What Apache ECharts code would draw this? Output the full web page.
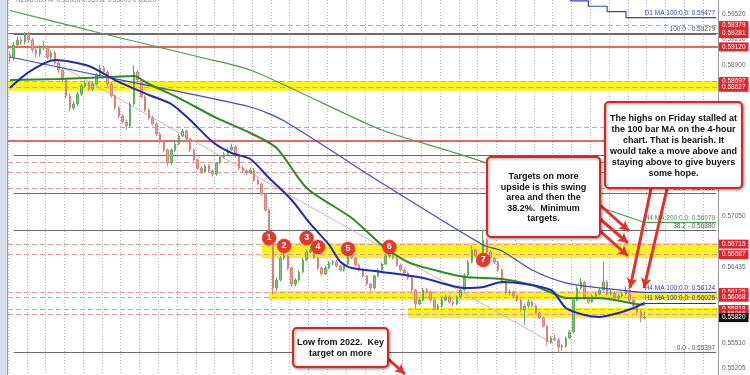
<!DOCTYPE html>
<html><head><meta charset="utf-8">
<script src="https://cdn.jsdelivr.net/npm/echarts@6/dist/echarts.min.js"></script>
<style>html,body{margin:0;padding:0;background:#fff}#c{width:750px;height:375px}</style>
</head><body><div id="c"></div>
<script>
// ---------------- data ----------------
const nCats = 189;
const firstOpen = 0.59020;
const closes = [
0.58984,0.59143,0.59203,0.59179,0.59277,0.59203,0.59082,0.59033,0.59106,0.59118,
0.58996,0.59045,0.58923,0.58838,0.58716,0.58521,0.58375,0.58423,0.58545,0.58643,
0.58679,0.58606,0.58667,0.58777,0.58862,0.58813,0.58667,0.58521,0.58375,0.58277,
0.58204,0.58155,0.58423,0.58813,0.58716,0.58509,0.58350,0.58253,0.58180,0.58058,
0.57960,0.57863,0.57704,0.57863,0.57936,0.58033,0.58094,0.57997,0.57863,0.57741,
0.57643,0.57595,0.57668,0.57607,0.57570,0.57704,0.57777,0.57814,0.57863,0.57899,
0.57790,0.57643,0.57607,0.57582,0.57619,0.57497,0.57448,0.57326,0.57131,0.56705,
0.56181,0.56278,0.56546,0.56571,0.56424,0.56229,0.56278,0.56376,0.56522,0.56619,
0.56644,0.56546,0.56424,0.56351,0.56424,0.56485,0.56497,0.56449,0.56400,0.56473,
0.56595,0.56546,0.56461,0.56400,0.56327,0.56229,0.56181,0.56327,0.56400,0.56473,
0.56571,0.56607,0.56546,0.56461,0.56400,0.56363,0.56302,0.56156,0.55986,0.56034,
0.56156,0.56132,0.56034,0.55925,0.55961,0.56034,0.56071,0.56010,0.55986,0.56071,
0.56156,0.56339,0.56497,0.56644,0.56571,0.56497,0.56766,0.56619,0.56546,0.56497,
0.56400,0.56254,0.56120,0.56132,0.56083,0.56034,0.55912,0.55961,0.56010,0.55961,
0.55876,0.55815,0.55717,0.55522,0.55571,0.55547,0.55461,0.55474,0.55571,0.55644,
0.56034,0.56181,0.56254,0.56059,0.56010,0.56083,0.56107,0.56156,0.56254,0.56107,
0.56120,0.56059,0.56083,0.56107,0.56156,0.56034,0.55961,0.55888,0.55815,0.55820];
const highs = [
0.5906,0.5918,0.5925,0.5924,0.5930,0.5930,0.5923,0.5912,0.5914,0.5919,
0.5914,0.5908,0.5907,0.5895,0.5886,0.5874,0.5855,0.5846,0.5857,0.5867,
0.5871,0.5870,0.5869,0.5880,0.5890,0.5889,0.5884,0.5869,0.5854,0.5840,
0.5830,0.5823,0.5845,0.5890,0.5884,0.5873,0.5853,0.5837,0.5828,0.5820,
0.5808,0.5798,0.5788,0.5789,0.5796,0.5806,0.5812,0.5811,0.5801,0.5788,
0.5776,0.5767,0.5769,0.5769,0.5763,0.5772,0.5780,0.5784,0.5789,0.5794,
0.5792,0.5780,0.5767,0.5763,0.5765,0.5764,0.5752,0.5746,0.5734,0.5715,
0.5672,0.5631,0.5657,0.5662,0.5659,0.5644,0.5630,0.5640,0.5655,0.5665,
0.5669,0.5666,0.5656,0.5644,0.5645,0.5651,0.5652,0.5652,0.5646,0.5649,
0.5665,0.5661,0.5656,0.5648,0.5642,0.5634,0.5624,0.5634,0.5642,0.5649,
0.5659,0.5665,0.5662,0.5656,0.5648,0.5642,0.5638,0.5632,0.5617,0.5606,
0.5618,0.5618,0.5615,0.5605,0.5599,0.5606,0.5610,0.5609,0.5603,0.5609,
0.5618,0.5636,0.5652,0.5670,0.5666,0.5659,0.5689,0.5679,0.5664,0.5656,
0.5651,0.5642,0.5627,0.5616,0.5615,0.5610,0.5605,0.5599,0.5604,0.5603,
0.5598,0.5589,0.5583,0.5573,0.5560,0.5561,0.5557,0.5550,0.5559,0.5567,
0.5606,0.5621,0.5630,0.5627,0.5608,0.5611,0.5613,0.5618,0.5650,0.5628,
0.5616,0.5614,0.5611,0.5614,0.5620,0.5618,0.5605,0.5598,0.5591,0.5589];
const lows = [
0.5893,0.5895,0.5911,0.5914,0.5915,0.5917,0.5905,0.5899,0.5900,0.5908,
0.5897,0.5896,0.5890,0.5880,0.5869,0.5849,0.5833,0.5835,0.5840,0.5852,
0.5862,0.5858,0.5858,0.5865,0.5876,0.5879,0.5864,0.5850,0.5835,0.5825,
0.5818,0.5811,0.5814,0.5840,0.5869,0.5849,0.5833,0.5823,0.5816,0.5803,
0.5794,0.5784,0.5767,0.5768,0.5784,0.5792,0.5802,0.5798,0.5784,0.5772,
0.5762,0.5757,0.5758,0.5759,0.5754,0.5755,0.5769,0.5776,0.5780,0.5785,
0.5777,0.5762,0.5759,0.5756,0.5757,0.5748,0.5743,0.5731,0.5711,0.5668,
0.5610,0.5615,0.5626,0.5652,0.5640,0.5620,0.5620,0.5626,0.5636,0.5651,
0.5660,0.5653,0.5640,0.5633,0.5634,0.5641,0.5646,0.5643,0.5638,0.5638,
0.5646,0.5653,0.5644,0.5638,0.5631,0.5621,0.5614,0.5617,0.5631,0.5639,
0.5646,0.5655,0.5653,0.5644,0.5638,0.5634,0.5628,0.5614,0.5592,0.5597,
0.5602,0.5611,0.5601,0.5591,0.5591,0.5594,0.5602,0.5599,0.5596,0.5597,
0.5605,0.5614,0.5632,0.5648,0.5655,0.5648,0.5648,0.5660,0.5653,0.5647,
0.5638,0.5623,0.5610,0.5610,0.5606,0.5601,0.5589,0.5573,0.5594,0.5594,
0.5586,0.5580,0.5570,0.5548,0.5550,0.5553,0.55397,0.5541,0.5545,0.5556,
0.5563,0.5602,0.5616,0.5604,0.5599,0.5600,0.5606,0.5609,0.5614,0.5609,
0.5609,0.5604,0.5604,0.5606,0.5609,0.5601,0.5594,0.5587,0.5576,0.5580];

// moving averages [barIndex, price]
const maH4_200 = [[0,0.59563],[24,0.59289],[51,0.58990],[64,0.58838],[77,0.58570],[99,0.58106],[117,0.57850],[130,0.57655],[151,0.57265],[169,0.56979]];
const maH4_100 = [[0,0.58996],[32,0.58692],[64,0.58387],[73,0.58216],[99,0.57460],[126,0.56705],[131,0.56632],[139,0.56400],[148,0.56242],[157,0.56181],[169,0.56124]];
const maH1_100blue = [[0,0.58618],[5,0.58813],[12,0.58960],[21,0.58887],[29,0.58692],[37,0.58533],[43,0.58423],[48,0.58228],[54,0.57960],[59,0.57826],[64,0.57753],[69,0.57521],[75,0.57253],[80,0.56961],[85,0.56705],[88,0.56497],[91,0.56424],[99,0.56376],[110,0.56302],[121,0.56181],[126,0.56193],[131,0.56254],[144,0.56156],[148,0.55937],[153,0.55851],[157,0.55827],[162,0.55876],[166,0.55937],[169,0.56000]];
const maH1_green = [[0,0.58716],[13,0.58728],[27,0.58752],[33,0.58765],[37,0.58667],[45,0.58496],[55,0.58253],[64,0.58070],[71,0.57887],[79,0.57399],[91,0.57034],[99,0.56705],[106,0.56497],[113,0.56400],[121,0.56315],[131,0.56290],[139,0.56217],[145,0.56107],[148,0.56059],[157,0.56059],[166,0.55990],[169,0.55975]];
const maD1_100 = [[149,0.59680],[154,0.59615],[159,0.59550],[164,0.59477],[188,0.59477]];
const trendLine = [[9,0.59005],[145,0.55492]];

const yTickLabels = [0.59520,0.59210,0.58900,0.57050,0.56435,0.55510,0.55205];
const priceTags = [0.59379,0.59281,0.59120,0.58697,0.58627,0.56715,0.56587,0.56125,0.56068,0.55918,0.55866];
const currentPrice = 0.55820;
const dashedLevels = [0.59379,0.58697,0.58627,0.58143,0.57716,0.57595,0.57399,0.56715,0.56587,0.56125,0.56068,0.55918,0.55866];
const redLevels = [0.59120,0.57972];
const brownLevel = 0.59281;
const fibLevels = [['100.0',0.59279],['61.8',0.57796],['50.0',0.57338],['38.2',0.56880],['0.0',0.55397]];
const bands = [[0.58705,0.58585,null],[0.56729,0.56546,67],[0.56144,0.56034,69],[0.55937,0.55815,106]];
const maLevels = [['D1 MA 100:0.0: 0.59477',0.59477,164,'#3343c8'],['H4 MA 200:0.0: 0.56979',0.56979,169,'#3f9a3f'],['H4 MA 100:0.0: 0.56124',0.56124,169,'#3343c8'],['H1 MA 100:0.0: 0.56026',0.56000,169,'#2233b0']];
const markers = [['1',69,0.56790],['2',73,0.56693],['3',79,0.56790],['4',82,0.56681],['5',90,0.56656],['6',101,0.56681],['7',126,0.56522]];

// ---------------- chart ----------------
const FONT = 'Liberation Sans, Arial, sans-serif';
const PREC = 6;
const cats = Array.from({length:nCats},(_,i)=>String(i));
const candleData = closes.map((c,i)=>[i===0?firstOpen:closes[i-1], c, lows[i], highs[i]]);
const HIDDEN_LINE = {color:'rgba(255,255,255,0)', width:0.01, opacity:1};

const bandData = bands.map(b=> b[2]===null
  ? [{yAxis:b[0]},{yAxis:b[1]}]
  : [{xAxis:b[2], yAxis:b[0]},{yAxis:b[1]}]);

const fibData = fibLevels.map(f=>[
  {xAxis:1, yAxis:f[1], label:{show:true, position:'insideEndTop', distance:1, formatter:f[0]+' - '+f[1].toFixed(5), color:'#555', fontSize:6.5, fontFamily:FONT}},
  {xAxis:188, yAxis:f[1]}]);
const maLevelData = maLevels.map(m=>[
  {xAxis:m[2], yAxis:m[1], lineStyle:{color:m[3], type:'solid', width:1},
   label:{show:true, position:'insideEndTop', distance:1, formatter:m[0], color:m[3], fontSize:6.5, fontFamily:FONT}},
  {xAxis:188, yAxis:m[1]}]);

const axisMarks = yTickLabels.map(v=>({yAxis:v,
  label:{show:true, position:'end', distance:4, formatter:v.toFixed(5), color:'#666', opacity:1, fontSize:6.5, fontFamily:FONT}}));
const tagMarks = priceTags.map(v=>({yAxis:v,
  label:{show:true, position:'end', distance:1, formatter:v.toFixed(5), color:'#fff', opacity:1, backgroundColor:'#e3242b', padding:[1,3,1,3], fontSize:6.5, fontFamily:FONT}}));
tagMarks.push({yAxis:currentPrice,
  label:{show:true, position:'end', distance:1, formatter:currentPrice.toFixed(5), color:'#fff', opacity:1, backgroundColor:'#111', padding:[1,3,1,3], fontSize:6.5, fontFamily:FONT}});

const arrows = [
  [{x:651,y:189},{x:630,y:288}],
  [{x:667,y:189},{x:644,y:288}],
  [{x:600,y:205},{x:629,y:231}],
  [{x:600,y:219},{x:628,y:243}],
  [{x:600,y:231},{x:628,y:256}],
  [{x:386,y:357},{x:405,y:374}]
];

function levelSeries(data, lineStyle, z){
  return {type:'line', data:[], z:z, silent:true,
    markLine:{silent:true, z:z, precision:PREC, symbol:['none','none'], label:{show:false}, lineStyle:lineStyle, data:data}};
}
function maSeries(data,color,width){
  return {type:'line', data:data, smooth:0.25, showSymbol:false, symbol:'none', z:4, silent:true,
    lineStyle:{color:color, width:width}};
}

const option = {
  animation:false,
  backgroundColor:'#ffffff',
  grid:{left:8, right:32, top:0, bottom:0, containLabel:false},
  xAxis:{type:'category', data:cats, boundaryGap:true,
    axisLine:{show:false}, axisTick:{show:false}, axisLabel:{show:false},
    splitLine:{show:true, interval:4, lineStyle:{color:'#b4b4b4', type:[1,2], width:1}}},
  yAxis:{type:'value', position:'right', min:0.5512, max:0.59691, scale:true,
    axisLine:{show:true, lineStyle:{color:'#9a9a9a'}}, axisTick:{show:false},
    axisLabel:{show:false}, splitLine:{show:false}},
  series:[
    {type:'line', data:[], z:1, silent:true,
      markArea:{silent:true, z:0, itemStyle:{color:'#fbf21d'}, data:bandData}},
    levelSeries(dashedLevels.map(v=>({yAxis:v})), {color:'#e39a9a', type:[5,3], width:1}, 1),
    levelSeries(redLevels.map(v=>({yAxis:v})), {color:'#e0352f', type:'solid', width:1.6}, 1),
    levelSeries([{yAxis:brownLevel}], {color:'#9b5a55', type:'solid', width:1.2}, 1),
    levelSeries(fibData, {color:'#6a6a6a', type:'solid', width:1}, 1),
    levelSeries(maLevelData, {color:'#3343c8', type:'solid', width:1}, 1),
    {type:'line', data:trendLine, z:2, silent:true, showSymbol:false, symbol:'none', lineStyle:{color:'#cdb5b5', width:1}},
    {type:'candlestick', data:candleData, z:3, barWidth:2, silent:true,
      itemStyle:{color:'#86c086', color0:'#e3a29a', borderColor:'#64ab64', borderColor0:'#d8827a', borderWidth:1},
      markPoint:{silent:true, symbol:'circle', symbolSize:14, itemStyle:{color:'#e5392c', borderColor:'#c92a20', borderWidth:0.5},
        label:{show:true, color:'#fff', fontSize:9, fontWeight:'bold', fontFamily:FONT, formatter:p=>p.name},
        data:markers.map(m=>({name:m[0], coord:[m[1], m[2]]}))}},
    maSeries(maH4_200,'#4a9e4a',1.2),
    maSeries(maH4_100,'#3a4bd0',1.2),
    maSeries(maH1_green,'#2f8a22',2),
    maSeries(maH1_100blue,'#1f2bb8',2),
    {type:'line', data:maD1_100, step:'end', z:4, silent:true, showSymbol:false, symbol:'none', lineStyle:{color:'#3343c8', width:1.2}},
    levelSeries(axisMarks.concat(tagMarks), HIDDEN_LINE, 6),
    {type:'line', data:[], z:7, silent:true,
      markLine:{silent:true, z:7, precision:PREC, symbol:['none','arrow'], symbolSize:[8,10], label:{show:false},
        lineStyle:{color:'#e3312a', width:3, type:'solid'}, data:arrows}}
  ],
  graphic:[
    {type:'rect', z:100, shape:{x:0,y:0,width:7,height:375}, style:{fill:'#d6dee9'}},
    {type:'line', z:100, shape:{x1:7.5,y1:0,x2:7.5,y2:375}, style:{stroke:'#8f9fb5', lineWidth:1}},
    {type:'text', z:100, x:16, y:-3, style:{text:'NZDUSD,H4  0.55856 0.55912 0.55809 0.55820', fill:'#8a8a8a', fontSize:6.5, fontFamily:FONT}},
    {type:'rect', z:100, shape:{x:605,y:102,width:137,height:86,r:4},
      style:{fill:'#ffffff', stroke:'#cf2b24', lineWidth:2, shadowBlur:3, shadowColor:'rgba(0,0,0,0.4)', shadowOffsetX:1, shadowOffsetY:1}},
    {type:'text', z:101, x:673.5, y:146, style:{text:'The highs on Friday stalled at\nthe 100 bar MA on the 4-hour\nchart. That is bearish. It\nwould take a move above and\nstaying above to give buyers\nsome hope.',
      fill:'#111', fontSize:9, fontWeight:'bold', fontFamily:FONT, align:'center', verticalAlign:'middle', lineHeight:11}},
    {type:'rect', z:100, shape:{x:487,y:157,width:113,height:80,r:4},
      style:{fill:'#ffffff', stroke:'#cf2b24', lineWidth:2, shadowBlur:3, shadowColor:'rgba(0,0,0,0.4)', shadowOffsetX:1, shadowOffsetY:1}},
    {type:'text', z:101, x:543.5, y:198, style:{text:'Targets on more\nupside is this swing\narea and then the\n38.2%.  Minimum\ntargets.',
      fill:'#111', fontSize:9, fontWeight:'bold', fontFamily:FONT, align:'center', verticalAlign:'middle', lineHeight:10.5}},
    {type:'rect', z:100, shape:{x:293,y:328,width:95,height:39,r:4},
      style:{fill:'#ffffff', stroke:'#cf2b24', lineWidth:2, shadowBlur:3, shadowColor:'rgba(0,0,0,0.4)', shadowOffsetX:1, shadowOffsetY:1}},
    {type:'text', z:101, x:340.5, y:348, style:{text:'Low from 2022.  Key\ntarget on more',
      fill:'#111', fontSize:9, fontWeight:'bold', fontFamily:FONT, align:'center', verticalAlign:'middle', lineHeight:10.5}}
  ]
};
const chart = echarts.init(document.getElementById('c'), null, {renderer:'canvas'});
chart.setOption(option);
</script></body></html>
